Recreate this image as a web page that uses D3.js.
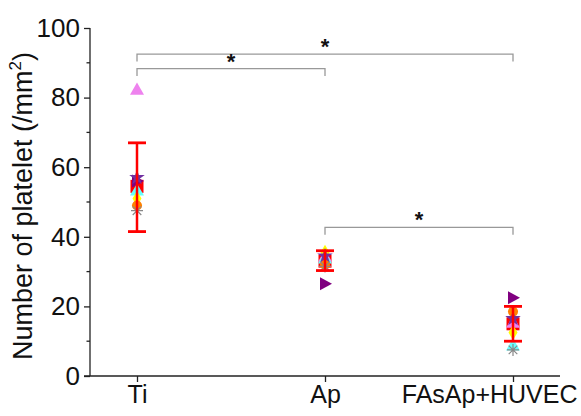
<!DOCTYPE html>
<html>
<head>
<meta charset="utf-8">
<script src="https://cdn.jsdelivr.net/npm/d3@7"></script>
<style>
  body { margin: 0; background: #fff; }
  text { font-family: Arial, "Liberation Sans", sans-serif; }
</style>
</head>
<body>
<div id="chart"></div>
<script>
// groups on the x axis
const groups = ["Ti", "Ap", "FAsAp+HUVEC"];
const yTicks = [0, 20, 40, 60, 80, 100];

// mean and error bar per group
const means = [54.5, 33, 15];
const errLow = [41.5, 30.3, 10];
const errHigh = [67, 36, 20];

// individual samples, one value per group
const sampleNames = ["s1", "s2", "s3", "s4", "s5", "s6", "s7"];
const sampleColors = ["#800080", "#EE82EE", "#66FFFF", "#FFFF00", "#FF8000", "#008B8B", "#7030A0"];
const sampleShapes = ["right", "up", "up", "diamond", "circle", "asterisk", "star"];
const sampleValues = [
  [56, 26.5, 22.5],
  [82, 34, 15],
  [53, 33.5, 8.5],
  [51, 35.5, 12.5],
  [49, 32, 18.5],
  [47.5, 31.5, 7.5],
  [57, 34.5, 16.5]
];

// significance brackets: from group, to group, height (value)
const bracketFrom = [0, 0, 1];
const bracketTo = [2, 1, 2];
const bracketY = [92.5, 88.3, 42.7];

const width = 581, height = 416;
const margin = {top: 28, right: 21, bottom: 40, left: 90};

const svg = d3.select("#chart").append("svg")
    .attr("width", width)
    .attr("height", height);

const x = d3.scaleLinear().domain([0.75, 3.25]).range([margin.left, width - margin.right]);
const y = d3.scaleLinear().domain([0, 100]).range([height - margin.bottom, margin.top]);

// y axis
const yAxisG = svg.append("g")
    .attr("transform", `translate(${margin.left},0)`)
    .call(d3.axisLeft(y).tickValues(yTicks).tickSize(6).tickPadding(4));
yAxisG.select(".domain").attr("stroke", "#222").attr("stroke-width", 1.3).attr("d", `M0,${y(0)}V${y(100)}`);
yAxisG.selectAll(".tick line").attr("stroke", "#222").attr("stroke-width", 1.3);
yAxisG.selectAll(".tick text").attr("font-size", 26).attr("fill", "#111");
yAxisG.selectAll(".minor")
    .data(d3.range(10, 100, 20))
    .join("line")
    .attr("class", "minor")
    .attr("x1", -3.5).attr("x2", 0)
    .attr("y1", d => y(d)).attr("y2", d => y(d))
    .attr("stroke", "#222").attr("stroke-width", 1.3);

// x axis
const xAxisG = svg.append("g")
    .attr("transform", `translate(0,${y(0)})`)
    .call(d3.axisBottom(x).tickValues([1, 2, 3]).tickFormat((d, i) => groups[i]).tickSize(6).tickPadding(3));
xAxisG.select(".domain").attr("stroke", "#222").attr("stroke-width", 1.3).attr("d", `M${margin.left - 6},0H${width - margin.right}`);
xAxisG.selectAll(".tick line").attr("stroke", "#222").attr("stroke-width", 1.3);
xAxisG.selectAll(".tick text").attr("font-size", 25).attr("fill", "#111");
// last label is pushed left so it stays inside the picture
xAxisG.selectAll(".tick text")
    .filter((d, i) => i === groups.length - 1)
    .attr("text-anchor", "end")
    .attr("x", width - 4 - x(3));

// y axis title
svg.append("text")
    .attr("transform", `translate(32,${(y(0) + y(100)) / 2 + 4}) rotate(-90)`)
    .attr("text-anchor", "middle")
    .attr("font-size", 27)
    .attr("fill", "#111")
    .html('Number of platelet (/mm<tspan dy="-11" font-size="17">2</tspan><tspan dy="11">)</tspan>');

// significance brackets
const drop = 2.1;
bracketFrom.forEach((f, i) => {
  const x1 = x(f + 1), x2 = x(bracketTo[i] + 1), yy = y(bracketY[i]);
  svg.append("path")
      .attr("d", `M${x1},${y(bracketY[i] - drop)}V${yy}H${x2}V${y(bracketY[i] - drop)}`)
      .attr("fill", "none")
      .attr("stroke", "#999")
      .attr("stroke-width", 1.3);
  svg.append("text")
      .attr("x", (x1 + x2) / 2)
      .attr("y", yy)
      .attr("text-anchor", "middle")
      .attr("font-size", 22)
      .attr("font-weight", "bold")
      .attr("fill", "#111")
      .text("*");
});

// error bars: filled mean square below the samples
const errG = svg.append("g");
means.forEach((m, i) => {
  const cx = x(i + 1);
  errG.append("rect")
      .attr("x", cx - 6.5).attr("y", y(m) - 6.5)
      .attr("width", 13).attr("height", 13)
      .attr("fill", "#FF0000");
});

// sample markers
const shapePath = {
  up: d3.symbol(d3.symbolTriangle, 85)(),
  diamond: d3.symbol(d3.symbolDiamond, 70)(),
  circle: d3.symbol(d3.symbolCircle, 80)(),
  star: d3.symbol(d3.symbolStar, 75)(),
  right: "M-5,-6.5L7,0L-5,6.5Z",
  asterisk: "M-6,0H6M0,-6V6M-4.3,-4.3L4.3,4.3M-4.3,4.3L4.3,-4.3"
};

const marks = svg.append("g");
sampleNames.forEach((name, si) => {
  marks.selectAll(`.pt-${name}`)
      .data(sampleValues[si])
      .join("path")
      .attr("class", `pt-${name}`)
      .attr("transform", (d, gi) => `translate(${x(gi + 1)},${y(d)})`)
      .attr("d", shapePath[sampleShapes[si]])
      .attr("fill", sampleShapes[si] === "asterisk" ? "none" : sampleColors[si])
      .attr("stroke", sampleShapes[si] === "asterisk" ? "#888" : "none")
      .attr("stroke-width", 1.2);
});

// error bar lines on top
const barG = svg.append("g");
means.forEach((m, i) => {
  const cx = x(i + 1);
  barG.append("line")
      .attr("x1", cx).attr("x2", cx)
      .attr("y1", y(errLow[i])).attr("y2", y(errHigh[i]))
      .attr("stroke", "#FF0000").attr("stroke-width", 2.5);
  [errLow[i], errHigh[i]].forEach(v => {
    barG.append("line")
        .attr("x1", cx - 9).attr("x2", cx + 9)
        .attr("y1", y(v)).attr("y2", y(v))
        .attr("stroke", "#FF0000").attr("stroke-width", 2.8);
  });
});
</script>
</body>
</html>
